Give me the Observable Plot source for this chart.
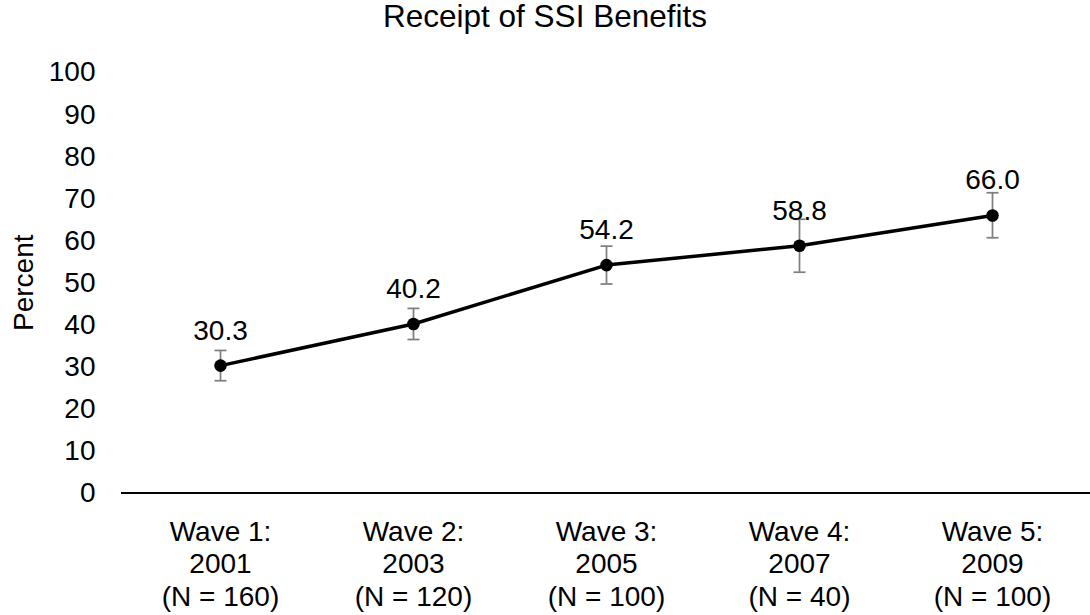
<!DOCTYPE html>
<html>
<head>
<meta charset="utf-8">
<script src="https://cdn.jsdelivr.net/npm/d3@7"></script>
<script src="https://cdn.jsdelivr.net/npm/@observablehq/plot@0.6"></script>
<style>
  body { margin: 0; background: #fff; font-family: "Liberation Sans", Arial, sans-serif; }
  #title { width: 1090px; height: 50px; font-size: 31.5px; text-align: center; color: #000; line-height: 1.05; }
</style>
</head>
<body>
<div id="title">Receipt of SSI Benefits</div>
<div id="chart"></div>
<script>
const waves = ["Wave 1:", "Wave 2:", "Wave 3:", "Wave 4:", "Wave 5:"];
const years = ["2001", "2003", "2005", "2007", "2009"];
const sampleSizes = ["(N = 160)", "(N = 120)", "(N = 100)", "(N = 40)", "(N = 100)"];
const percents = [30.3, 40.2, 54.2, 58.8, 66.0];
const lowerCI = [26.7, 36.5, 49.7, 52.5, 60.7];
const upperCI = [33.9, 43.9, 58.7, 65.1, 71.4];
const yTicks = [0, 10, 20, 30, 40, 50, 60, 70, 80, 90, 100];

const labels = waves.map((w, i) => `${w}\n${years[i]}\n${sampleSizes[i]}`);
const rows = labels.map((label, i) => ({
  label, value: percents[i], lo: lowerCI[i], hi: upperCI[i]
}));

const capSymbol = {
  draw(context, size) {
    const w = Math.sqrt(size / Math.PI);
    context.moveTo(-w, 0);
    context.lineTo(w, 0);
  }
};

const chart = Plot.plot({
  width: 1090,
  height: 565,
  marginTop: 22,
  marginBottom: 122.5,
  marginLeft: 121,
  marginRight: 0,
  style: { fontFamily: "'Liberation Sans', Arial, sans-serif", fontSize: "28px", color: "#000", background: "#fff" },
  x: { type: "point", domain: labels, padding: 0.5 },
  y: { domain: [0, 100] },
  marks: [
    Plot.axisY({ ticks: yTicks, tickSize: 0, tickPadding: 26, label: "Percent", labelAnchor: "center", labelArrow: "none", labelOffset: 108 }),
    Plot.axisX({ tickSize: 0, tickPadding: 24.5, lineHeight: 1.16, label: null, tickFormat: d => d }),
    Plot.ruleY([0], { stroke: "#000", strokeWidth: 2 }),
    Plot.ruleX(rows, { x: "label", y1: "lo", y2: "hi", stroke: "#7f7f7f", strokeWidth: 1.75 }),
    Plot.dot(rows, { x: "label", y: "lo", symbol: capSymbol, r: 6, fill: "none", stroke: "#7f7f7f", strokeWidth: 1.75 }),
    Plot.dot(rows, { x: "label", y: "hi", symbol: capSymbol, r: 6, fill: "none", stroke: "#7f7f7f", strokeWidth: 1.75 }),
    Plot.line(rows, { x: "label", y: "value", stroke: "#000", strokeWidth: 3.5 }),
    Plot.dot(rows, { x: "label", y: "value", r: 6.3, fill: "#000", stroke: "none" }),
    Plot.text(rows, { x: "label", y: "value", text: d => d.value.toFixed(1), lineAnchor: "bottom", dy: -26, fill: "#000" })
  ]
});
document.getElementById("chart").appendChild(chart);
</script>
</body>
</html>
